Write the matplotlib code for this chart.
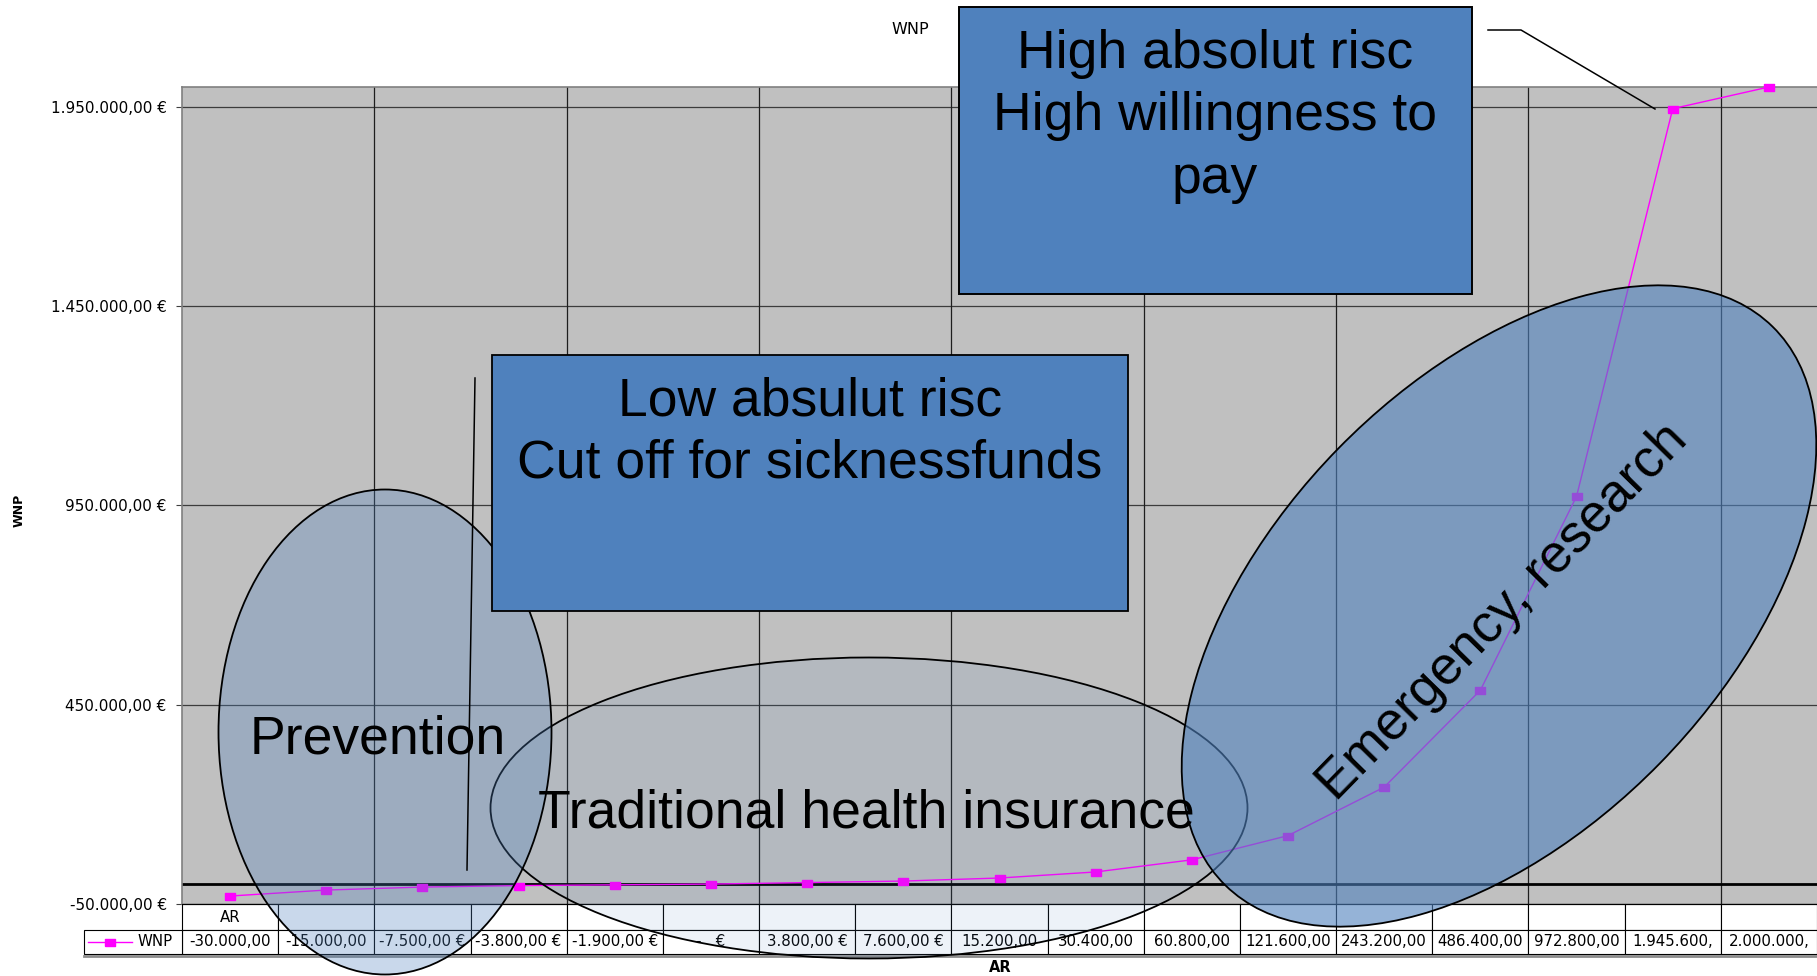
import numpy as np
import matplotlib
matplotlib.use("Agg")
import matplotlib.pyplot as plt
from matplotlib.patches import Ellipse, Rectangle
from matplotlib.path import Path
from matplotlib.transforms import blended_transform_factory

# data
ar_labels = ["AR"] + [""] * 16
wnp = [-30000, -15000, -7500, -3800, -1900, 0, 3800, 7600, 15200, 30400,
       60800, 121600, 243200, 486400, 972800, 1945600, 2000000]
wnp_cells = ["-30.000,00", "-15.000,00", "-7.500,00 €", "-3.800,00 €", "-1.900,00 €",
             "-   €", "3.800,00 €", "7.600,00 €", "15.200,00", "30.400,00",
             "60.800,00", "121.600,00", "243.200,00", "486.400,00", "972.800,00",
             "1.945.600,", "2.000.000,"]
y_ticks = [-50000, 450000, 950000, 1450000, 1950000]


def euro(v):
    s = f"{v:,.2f}".replace(",", "X").replace(".", ",").replace("X", ".")
    return s + " €"


plt.rcParams['font.family'] = ['DejaVu Sans']
big_font = ['Liberation Sans', 'DejaVu Sans']

# figure in pixels
W, H = 1817, 976
fig = plt.figure(figsize=(W / 100, H / 100), dpi=100)

plot_left, plot_top, plot_bottom = 182, 87, 904
ax = fig.add_axes([plot_left / W, (H - plot_bottom) / H,
                   (W - plot_left) / W, (plot_bottom - plot_top) / H])
ax.set_facecolor('#c0c0c0')

# flat rectangle marker like the excel one
rect_marker = Path([(-1, -0.7), (1, -0.7), (1, 0.7), (-1, 0.7), (-1, -0.7)])

x = np.arange(len(wnp))
ax.plot(x, wnp, color='#ff00ff', lw=1.0, marker=rect_marker, ms=7.2,
        clip_on=False, zorder=3)
ax.set_xlim(-0.5, len(wnp) - 0.5)
ax.set_ylim(-50000, 2000000)
ax.set_yticks(y_ticks, [euro(v) for v in y_ticks])
ax.set_xticks([])
ax.tick_params(axis='y', length=4, width=0.8, color='#404040', pad=7, labelsize=11)

for v in y_ticks:
    ax.axhline(v, color='#3c3c3c', lw=0.9, zorder=1)
for b in np.arange(1.5, len(wnp) - 1, 2):
    ax.axvline(b, color='#1e1e1e', lw=0.9, zorder=1)
ax.axhline(0, color='black', lw=2, zorder=2)

for side in ['left', 'top']:
    ax.spines[side].set_color('#808080')
    ax.spines[side].set_linewidth(1.2)
ax.spines['right'].set_visible(False)
ax.spines['bottom'].set_color('black')
ax.spines['bottom'].set_linewidth(0.8)

# data table under the plot
tr = blended_transform_factory(ax.transData, ax.transAxes)
ax_h = plot_bottom - plot_top
r1 = -26 / ax_h
r2 = -50 / ax_h
px = 1 / ((W - plot_left) / len(wnp))  # data units per pixel

for i, (lab, val) in enumerate(zip(ar_labels, wnp_cells)):
    ax.add_patch(Rectangle((i - 0.5, r1), 1, -r1, transform=tr, fc='white',
                           ec='black', lw=0.8, clip_on=False))
    ax.add_patch(Rectangle((i - 0.5, r2), 1, r1 - r2, transform=tr, fc='white',
                           ec='black', lw=0.8, clip_on=False))
    ax.text(i, r1 / 2, lab, transform=tr, ha='center', va='center', fontsize=10.8)
    ax.text(i, (r1 + r2) / 2, val, transform=tr, ha='center', va='center', fontsize=10.8)

leg_x0 = -0.5 - (plot_left - 84) * px
ax.add_patch(Rectangle((leg_x0, r2), -0.5 - leg_x0, r1 - r2, transform=tr, fc='white',
                       ec='black', lw=0.8, clip_on=False))
ax.plot([leg_x0 + 4 * px, leg_x0 + 48 * px], [(r1 + r2) / 2] * 2, transform=tr,
        color='#ff00ff', lw=1.0, clip_on=False)
ax.plot([leg_x0 + 26 * px], [(r1 + r2) / 2], transform=tr, color='#ff00ff',
        marker=rect_marker, ms=7.2, clip_on=False)
ax.text(leg_x0 + 54 * px, (r1 + r2) / 2, "WNP", transform=tr, ha='left', va='center',
        fontsize=10.8)
ax.plot([leg_x0, len(wnp) - 0.5], [r2 - 1.5 / ax_h] * 2, transform=tr,
        color='#8c8c8c', lw=2, clip_on=False)

fig.text(19 / W, 1 - 510 / H, "WNP", rotation=90, fontweight='bold', fontsize=9,
         ha='center', va='center')
fig.text(1000 / W, 1 - 968 / H, "AR", fontweight='bold', fontsize=10.5,
         ha='center', va='center')
fig.text(910 / W, 1 - 29 / H, "WNP", fontsize=11.5, ha='center', va='center')

# drawing layer on top, pixel coordinates
ov = fig.add_axes([0, 0, 1, 1])
ov.set_xlim(0, W)
ov.set_ylim(H, 0)
ov.axis('off')

blue = (79 / 255, 129 / 255, 189 / 255)
ov.add_patch(Ellipse((869, 808), 757, 301, fc=blue + (0.1,), ec='black', lw=1.3))
ov.add_patch(Ellipse((385, 732), 333, 485, fc=blue + (0.3,), ec='black', lw=1.3))
ov.add_patch(Ellipse((1499, 606), 782, 450, angle=-45.6, fc=blue + (0.6,),
                     ec='black', lw=1.3))
ov.add_patch(Rectangle((959, 7), 513, 287, fc='#4f81bd', ec='black', lw=1.4))
ov.add_patch(Rectangle((492, 355), 636, 256, fc='#4f81bd', ec='black', lw=1.3))

ov.plot([475, 467], [378, 870], color='black', lw=1.1)
ov.plot([1488, 1521, 1655], [30, 30, 109], color='black', lw=1.1)

fs = 38.5
ov.text(1215, 29, "High absolut risc\nHigh willingness to\npay", ha='center', va='top',
        fontsize=fs, family=big_font, linespacing=1.32, multialignment='center')
ov.text(810, 376, "Low absulut risc\nCut off for sicknessfunds", ha='center', va='top',
        fontsize=fs, family=big_font, linespacing=1.32, multialignment='center')
ov.text(378, 754, "Prevention", ha='center', va='baseline', fontsize=fs, family=big_font)
ov.text(866, 828, "Traditional health insurance", ha='center', va='baseline',
        fontsize=fs, family=big_font)
ov.text(1503, 612, "Emergency, research", ha='center', va='center', rotation=45.6,
        rotation_mode='anchor', fontsize=fs, family=big_font)

fig.savefig("out.png", dpi=100)
